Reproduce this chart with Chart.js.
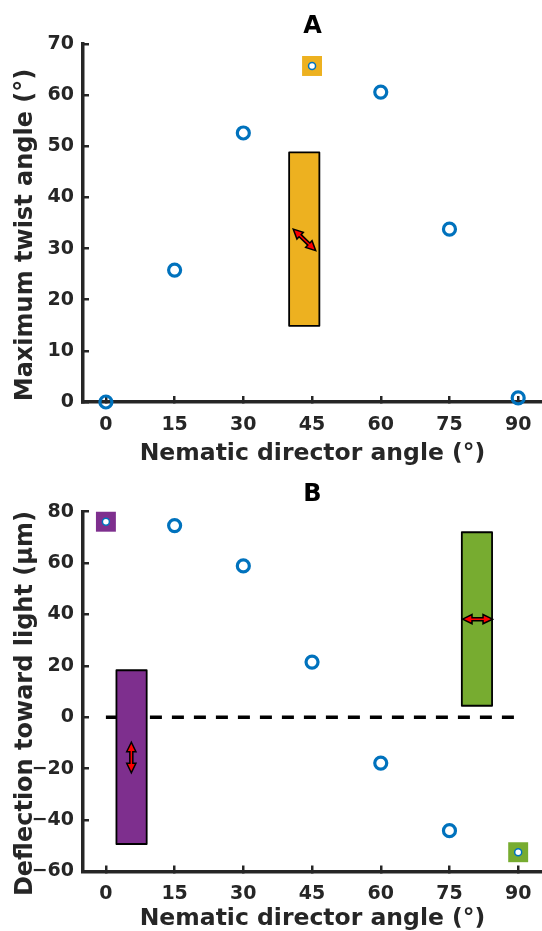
<!DOCTYPE html>
<html>
<head>
<meta charset="utf-8">
<script src="https://cdn.jsdelivr.net/npm/chart.js@4.4.1/dist/chart.umd.min.js"></script>
<style>
html,body{margin:0;padding:0;background:#ffffff;}
#wrap{position:relative;width:542px;height:931px;overflow:hidden;}
canvas{position:absolute;left:0;}
</style>
</head>
<body>
<div id="wrap">
<canvas id="cA" width="542" height="466" style="top:0px;width:542px;height:466px"></canvas>
<canvas id="cB" width="542" height="465" style="top:466px;width:542px;height:465px"></canvas>
</div>
<script>
// ---------------- data ----------------
const angles = [0, 15, 30, 45, 60, 75, 90];
const twistA = [0, 25.8, 52.6, 65.7, 60.6, 33.8, 0.8];
const deflB  = [76.1, 74.6, 58.9, 21.5, -17.8, -44.1, -52.5];

const xTicks  = [0, 15, 30, 45, 60, 75, 90];
const yTicksA = [0, 10, 20, 30, 40, 50, 60, 70];
const yTicksB = [-60, -40, -20, 0, 20, 40, 60, 80];

// highlighted angles (square markers) and their colours
const highlightA = [45];
const highlightAColors = ['#EDB120'];
const highlightB = [0, 90];
const highlightBColors = ['#7E2F8E', '#77AC30'];

// coloured boxes [xmin, xmax], [ymin, ymax]
const boxAX  = [40.0, 46.6], boxAY  = [14.9, 48.8];
const boxB1X = [2.3, 8.9],   boxB1Y = [-49.3, 18.3];
const boxB2X = [77.7, 84.3], boxB2Y = [4.5, 72.0];

// double arrows [start, end]
const arrowAX  = [40.9, 45.8],  arrowAY  = [33.8, 29.6];
const arrowB1X = [5.55, 5.55],  arrowB1Y = [-9.7, -21.6];
const arrowB2X = [77.85, 84.4], arrowB2Y = [38.2, 38.2];

// zero reference line in B
const zeroLineX = [0, 90], zeroLineY = [0, 0];

// ---------------- helpers ----------------
const FONT = 'DejaVu Sans';
const INK = '#262626';
const BLUE = '#0072BD';
const noPad = () => ({left: 0, top: 0, right: 0, bottom: 0});

const overlayPlugin = {
  id: 'overlay',
  afterDatasetsDraw(chart, args, opts) {
    const {ctx, scales: {x, y}} = chart;
    ctx.save();
    (opts.boxes || []).forEach(b => {
      const x0 = x.getPixelForValue(b.x[0]), x1 = x.getPixelForValue(b.x[1]);
      const y0 = y.getPixelForValue(b.y[0]), y1 = y.getPixelForValue(b.y[1]);
      ctx.beginPath();
      ctx.rect(Math.min(x0, x1), Math.min(y0, y1), Math.abs(x1 - x0), Math.abs(y1 - y0));
      ctx.fillStyle = b.color;
      ctx.fill();
      ctx.lineWidth = 1.8;
      ctx.lineJoin = 'round';
      ctx.strokeStyle = '#000';
      ctx.stroke();
    });
    (opts.arrows || []).forEach(a => {
      const x0 = x.getPixelForValue(a.x[0]), x1 = x.getPixelForValue(a.x[1]);
      const y0 = y.getPixelForValue(a.y[0]), y1 = y.getPixelForValue(a.y[1]);
      const dx = x1 - x0, dy = y1 - y0, L = Math.hypot(dx, dy);
      const ux = dx / L, uy = dy / L, nx = -uy, ny = ux;
      const hl = 9.5, hw = 4.6, sw = 1.5;
      const P = (s, t) => [x0 + ux * s + nx * t, y0 + uy * s + ny * t];
      const pts = [P(0, 0), P(hl, hw), P(hl, sw), P(L - hl, sw), P(L - hl, hw), P(L, 0),
                   P(L - hl, -hw), P(L - hl, -sw), P(hl, -sw), P(hl, -hw)];
      ctx.beginPath();
      pts.forEach(([px, py], i) => i ? ctx.lineTo(px, py) : ctx.moveTo(px, py));
      ctx.closePath();
      ctx.fillStyle = '#FF0000';
      ctx.fill();
      ctx.lineWidth = 1.5;
      ctx.lineJoin = 'miter';
      ctx.strokeStyle = '#000';
      ctx.stroke();
    });
    ctx.restore();
  }
};

function makeChart(canvasId, cfg) {
  const isHi = (i) => cfg.highlight.indexOf(angles[i]) >= 0;
  const mainData = angles.map((a, i) => ({x: a, y: cfg.values[i]}));
  const hiData = cfg.highlight.map(a => ({x: a, y: cfg.values[angles.indexOf(a)]}));
  const datasets = [
    {
      label: 'data',
      data: mainData,
      showLine: false,
      clip: false,
      pointStyle: 'circle',
      pointRadius: (c) => isHi(c.dataIndex) ? 3.5 : 6,
      pointHoverRadius: (c) => isHi(c.dataIndex) ? 3.5 : 6,
      pointBorderWidth: (c) => isHi(c.dataIndex) ? 1.5 : 3.2,
      pointBorderColor: BLUE,
      pointBackgroundColor: (c) => isHi(c.dataIndex) ? '#ffffff' : 'rgba(0,0,0,0)'
    },
    {
      label: 'highlight',
      data: hiData,
      showLine: false,
      clip: false,
      pointStyle: 'rect',
      pointRadius: 14.1,
      pointHoverRadius: 14.1,
      pointBorderWidth: 0,
      pointBorderColor: 'rgba(0,0,0,0)',
      pointBackgroundColor: cfg.highlightColors
    }
  ];
  if (cfg.zeroLine) {
    datasets.push({
      label: 'zero',
      data: cfg.zeroLine.x.map((v, i) => ({x: v, y: cfg.zeroLine.y[i]})),
      showLine: true,
      borderColor: '#000',
      borderWidth: 3.5,
      borderDash: [12, 10],
      pointRadius: 0,
      clip: false
    });
  }
  return new Chart(document.getElementById(canvasId), {
    type: 'scatter',
    data: {datasets},
    plugins: [overlayPlugin],
    options: {
      responsive: false,
      animation: false,
      devicePixelRatio: 1,
      events: [],
      layout: {padding: 0, autoPadding: false},
      plugins: {
        legend: {display: false},
        tooltip: {enabled: false},
        title: {
          display: true,
          text: cfg.title,
          color: '#000',
          fullSize: false,
          font: {family: FONT, size: 24, weight: 'bold', lineHeight: 1},
          padding: cfg.titlePadding
        },
        overlay: {boxes: cfg.boxes, arrows: cfg.arrows}
      },
      scales: {
        x: {
          type: 'linear',
          min: -5,
          max: 95.2,
          afterBuildTicks: (s) => { s.ticks = xTicks.map(v => ({value: v})); },
          afterFit: (s) => { s.height = cfg.xAxisHeight; s.paddingLeft = 0; s.paddingRight = 0; s.getPadding = noPad; },
          ticks: {
            color: INK,
            padding: 17.6,
            maxRotation: 0,
            autoSkip: false,
            font: {family: FONT, size: 19, weight: 'bold', lineHeight: 1.2}
          },
          grid: {
            display: true,
            drawOnChartArea: false,
            drawTicks: true,
            tickLength: -6,
            lineWidth: 2.5,
            color: INK
          },
          border: {display: true, color: INK, width: 3.5},
          title: {
            display: true,
            text: 'Nematic director angle (°)',
            color: INK,
            font: {family: FONT, size: 23.5, weight: 'bold', lineHeight: 1},
            padding: {top: 0, bottom: 0}
          }
        },
        y: {
          type: 'linear',
          min: cfg.yMin,
          max: cfg.yMax,
          afterBuildTicks: (s) => { s.ticks = cfg.yTicks.map(v => ({value: v})); },
          afterFit: (s) => { s.width = 83; s.getPadding = noPad; },
          ticks: {
            color: INK,
            padding: 15,
            autoSkip: false,
            font: {family: FONT, size: 19, weight: 'bold', lineHeight: 1.2},
            callback: (v) => String(v).replace('-', '\u2212')
          },
          grid: {
            display: true,
            drawOnChartArea: false,
            drawTicks: true,
            tickLength: -6,
            lineWidth: 2.5,
            color: INK
          },
          border: {display: true, color: INK, width: 3.5},
          title: {
            display: true,
            text: cfg.yTitle + '\u2002\u2002',
            color: INK,
            font: {family: FONT, size: 24, weight: 'bold', lineHeight: 1},
            padding: {top: 14, bottom: 0}
          }
        }
      }
    }
  });
}

makeChart('cA', {
  title: 'A',
  titlePadding: {top: 15, bottom: 5},
  values: twistA,
  highlight: highlightA,
  highlightColors: highlightAColors,
  yMin: 0, yMax: 70, yTicks: yTicksA,
  yTitle: 'Maximum twist angle (°)',
  xAxisHeight: 64,
  boxes: [{x: boxAX, y: boxAY, color: '#EDB120'}],
  arrows: [{x: arrowAX, y: arrowAY}]
});

makeChart('cB', {
  title: 'B',
  titlePadding: {top: 17, bottom: 4.7},
  values: deflB,
  highlight: highlightB,
  highlightColors: highlightBColors,
  yMin: -60, yMax: 80, yTicks: yTicksB,
  yTitle: 'Deflection toward light (µm)',
  xAxisHeight: 59.5,
  zeroLine: {x: zeroLineX, y: zeroLineY},
  boxes: [{x: boxB1X, y: boxB1Y, color: '#7E2F8E'}, {x: boxB2X, y: boxB2Y, color: '#77AC30'}],
  arrows: [{x: arrowB1X, y: arrowB1Y}, {x: arrowB2X, y: arrowB2Y}]
});
</script>
</body>
</html>
